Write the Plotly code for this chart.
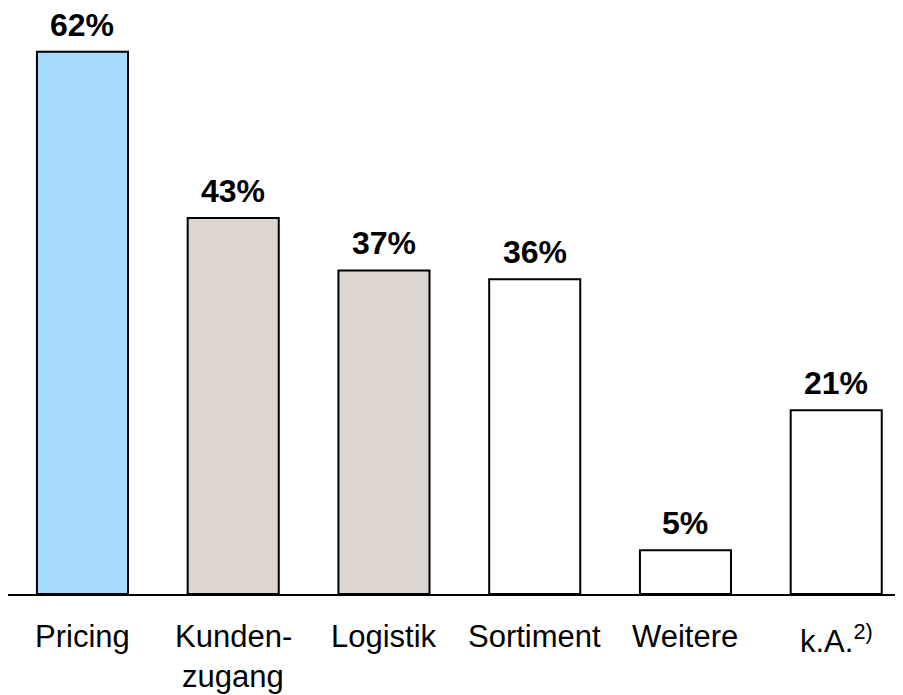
import plotly.graph_objects as go

categories = ["Pricing", "Kunden-<br>zugang", "Logistik", "Sortiment", "Weitere", "k.A.<sup>2)</sup>"]
values = [62, 43, 37, 36, 5, 21]
value_labels = ["62%", "43%", "37%", "36%", "5%", "21%"]
colors = ["#A6DBFE", "#DDD5D0", "#DDD5D0", "#FFFFFF", "#FFFFFF", "#FFFFFF"]

FONT = "Liberation Sans, Arial, Helvetica, sans-serif"
xs = list(range(len(categories)))

fig = go.Figure()
fig.add_trace(go.Bar(
    x=xs, y=values, width=0.604,
    marker=dict(color=colors, line=dict(color="black", width=2)),
    hoverinfo="skip",
))

annotations = []
for i, (v, t) in enumerate(zip(values, value_labels)):
    annotations.append(dict(x=i, y=v, xref="x", yref="y", text="<b>" + t + "</b>",
                            showarrow=False, yanchor="bottom", yshift=7,
                            font=dict(family=FONT, size=32, color="black")))
for i, c in enumerate(categories):
    lines = c.split("<br>")
    for j, ln in enumerate(lines):
        annotations.append(dict(x=i, y=0, xref="x", yref="y", text=ln,
                                showarrow=False, yanchor="top", yshift=-23 - 40 * j,
                                font=dict(family=FONT, size=31, color="black")))

fig.update_layout(
    width=895, height=687,
    margin=dict(l=0, r=0, t=0, b=101),
    paper_bgcolor="white", plot_bgcolor="white",
    showlegend=False,
    annotations=annotations,
    xaxis=dict(range=[-0.494, 5.443], showticklabels=False, showgrid=False, zeroline=False,
               showline=True, linecolor="black", linewidth=2, ticks=""),
    yaxis=dict(range=[0, 67.0], visible=False, showgrid=False, zeroline=False),
)

fig.write_html("out.html")
